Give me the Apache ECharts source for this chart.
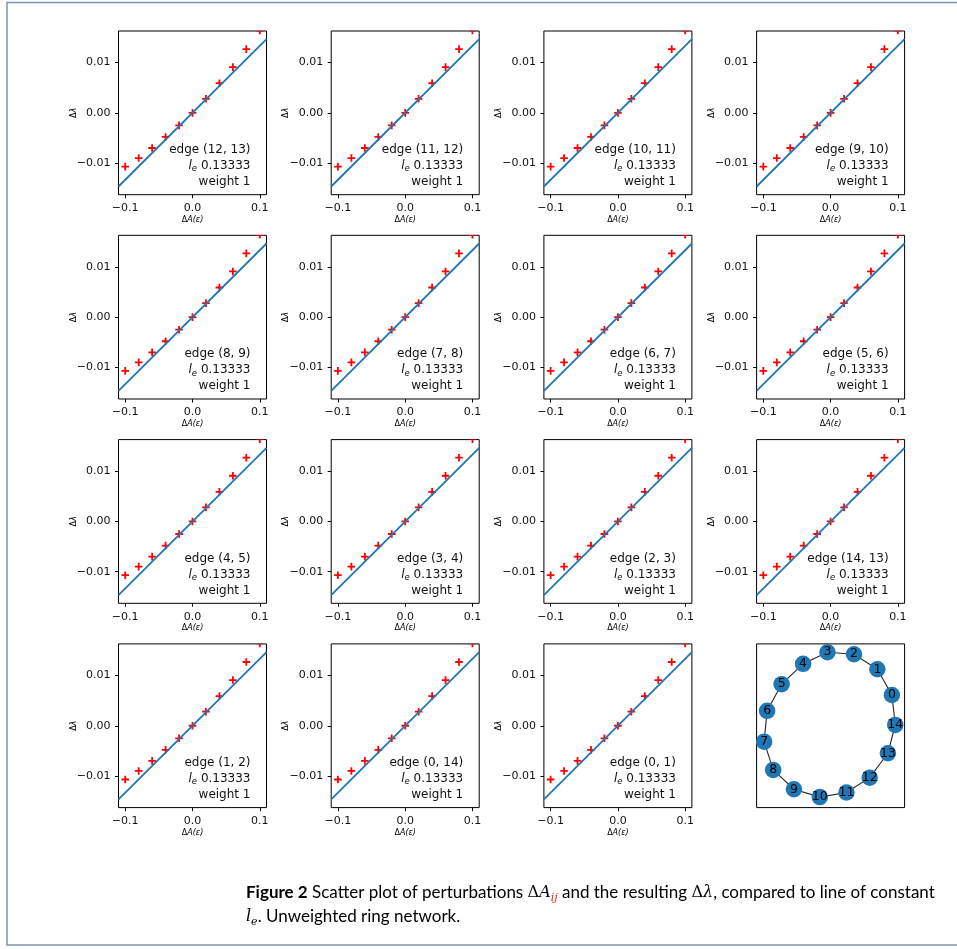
<!DOCTYPE html>
<html>
<head>
<meta charset="utf-8">
<script src="https://cdn.jsdelivr.net/npm/echarts@6/dist/echarts.min.js"></script>
<style>
  html, body { margin: 0; padding: 0; background: #ffffff; }
  #chart { width: 957px; height: 949px; }
</style>
</head>
<body>
<div id="chart"></div>
<script>
// ---- data -------------------------------------------------------------
// edge perturbed in each panel (row-major order)
const edgeLabels = [
  '(12, 13)', '(11, 12)', '(10, 11)', '(9, 10)',
  '(8, 9)', '(7, 8)', '(6, 7)', '(5, 6)',
  '(4, 5)', '(3, 4)', '(2, 3)', '(14, 13)',
  '(1, 2)', '(0, 14)', '(0, 1)'
];
// perturbation sizes ΔA(ε)
const perturbations = [-0.10, -0.08, -0.06, -0.04, -0.02, 0.00, 0.02, 0.04, 0.06, 0.08, 0.10];
// resulting eigenvalue change Δλ (same for every edge of the ring)
const deltaLambda = [-0.0107, -0.0090, -0.0070, -0.0048, -0.0025, 0.0000, 0.0028, 0.0059, 0.0091, 0.0127, 0.0164];
// edge importance l_e and weight
const edgeLength = 0.13333;
const edgeWeight = 1;
// reference line end points on the ΔA axis
const lineEndsX = [-0.11, 0.11];

const xTicks = [-0.1, 0.0, 0.1];
const xTickText = ['\u22120.1', '0.0', '0.1'];
const yTicks = [-0.01, 0.0, 0.01];
const yTickText = ['\u22120.01', '0.00', '0.01'];
const xRange = [-0.11, 0.11];
const yRange = [-0.0163, 0.0163];

// ring network drawing positions (unit box)
const nodeIds = [0, 1, 2, 3, 4, 5, 6, 7, 8, 9, 10, 11, 12, 13, 14];
const nodeX = [0.914, 0.816, 0.658, 0.479, 0.314, 0.169, 0.071, 0.051, 0.112, 0.252, 0.427, 0.607, 0.764, 0.887, 0.937];
const nodeY = [0.688, 0.845, 0.937, 0.949, 0.878, 0.754, 0.591, 0.403, 0.230, 0.112, 0.064, 0.092, 0.183, 0.332, 0.505];
const ringEdges = [[0, 1], [1, 2], [2, 3], [3, 4], [4, 5], [5, 6], [6, 7], [7, 8], [8, 9], [9, 10], [10, 11], [11, 12], [12, 13], [13, 14], [14, 0]];

// ---- layout -----------------------------------------------------------
const COLS = 4;
const LEFT0 = 118.5, COL_STEP = 212.7, PANEL_W = 148;
const TOP0 = 31, ROW_STEP = 204.3, PANEL_H = 163.7;
const TICK_FONT = 'DejaVu Sans';

function tickFormatter(ticks, texts) {
  return function (v) {
    const k = ticks.findIndex(t => Math.abs(t - v) < 1e-9);
    return k < 0 ? '' : texts[k];
  };
}

const grids = [], xAxes = [], yAxes = [], series = [], graphics = [];

const nPanels = edgeLabels.length + 1;
for (let i = 0; i < nPanels; i++) {
  const r = Math.floor(i / COLS), c = i % COLS;
  const left = LEFT0 + c * COL_STEP, top = TOP0 + r * ROW_STEP;
  grids.push({
    left: left, top: top, width: PANEL_W, height: PANEL_H,
    show: true, borderColor: '#000', borderWidth: 1, backgroundColor: 'transparent'
  });
}

const scatterPoints = perturbations.map((x, k) => [x, deltaLambda[k]]);
const linePoints = lineEndsX.map(x => [x, edgeLength * x]);

edgeLabels.forEach((edge, i) => {
  xAxes.push({
    type: 'value', gridIndex: i, min: xRange[0], max: xRange[1],
    axisLine: { show: false, onZero: false },
    splitLine: { show: false },
    axisTick: { show: true, customValues: xTicks, length: 3.5, lineStyle: { color: '#000', width: 1 } },
    axisLabel: {
      customValues: xTicks, formatter: tickFormatter(xTicks, xTickText),
      fontFamily: TICK_FONT, fontSize: 11, color: '#111', margin: 8
    },
    name: '{d|Δ}{i|A(ε)}', nameLocation: 'middle', nameGap: 21,
    nameTextStyle: {
      rich: {
        d: { fontFamily: TICK_FONT, fontSize: 8, color: '#000' },
        i: { fontFamily: TICK_FONT, fontStyle: 'italic', fontSize: 8, color: '#000' }
      }
    }
  });
  yAxes.push({
    type: 'value', gridIndex: i, min: yRange[0], max: yRange[1],
    axisLine: { show: false, onZero: false },
    splitLine: { show: false },
    axisTick: { show: true, customValues: yTicks, length: 3.5, lineStyle: { color: '#000', width: 1 } },
    axisLabel: {
      customValues: yTicks, formatter: tickFormatter(yTicks, yTickText),
      fontFamily: TICK_FONT, fontSize: 11, color: '#111', margin: 8
    },
    name: '{d|Δ}{i|λ}', nameLocation: 'middle', nameGap: 41, nameRotate: 90,
    nameMoveOverlap: false,
    nameTextStyle: {
      rich: {
        d: { fontFamily: TICK_FONT, fontSize: 8, color: '#000' },
        i: { fontFamily: TICK_FONT, fontStyle: 'italic', fontSize: 8, color: '#000' }
      }
    }
  });

  // red "+" markers, clipped to the axes box
  series.push({
    type: 'custom', xAxisIndex: i, yAxisIndex: i, clip: true, z: 2,
    data: scatterPoints,
    renderItem: function (params, api) {
      const p = api.coord([api.value(0), api.value(1)]);
      const h = 3.8;
      const st = { stroke: '#ff0000', lineWidth: 1.8 };
      return {
        type: 'group',
        children: [
          { type: 'line', shape: { x1: p[0] - h, y1: p[1], x2: p[0] + h, y2: p[1] }, style: st },
          { type: 'line', shape: { x1: p[0], y1: p[1] - h, x2: p[0], y2: p[1] + h }, style: st }
        ]
      };
    },
    silent: true, animation: false
  });

  // line of constant l_e
  series.push({
    type: 'line', xAxisIndex: i, yAxisIndex: i, z: 3,
    data: linePoints, showSymbol: false, symbol: 'none',
    lineStyle: { color: '#1f77b4', width: 1.8 },
    silent: true, animation: false
  });

  // annotation block
  const r = Math.floor(i / COLS), c = i % COLS;
  const tx = LEFT0 + c * COL_STEP + PANEL_W - 16;
  const ty = TOP0 + r * ROW_STEP;
  const base = { fontFamily: TICK_FONT, fontSize: 12, fill: '#111', align: 'right', verticalAlign: 'middle' };
  graphics.push({ type: 'text', x: tx, y: ty + 119, style: Object.assign({ text: 'edge ' + edge }, base), silent: true });
  graphics.push({
    type: 'text', x: tx, y: ty + 135,
    style: Object.assign({
      text: '{l|l}{e|e}{n| ' + edgeLength.toFixed(5) + '}',
      rich: {
        l: { fontFamily: TICK_FONT, fontStyle: 'italic', fontSize: 12, fill: '#111', lineHeight: 15, verticalAlign: 'middle' },
        e: { fontFamily: TICK_FONT, fontStyle: 'italic', fontSize: 8.5, fill: '#111', lineHeight: 15, verticalAlign: 'bottom' },
        n: { fontFamily: TICK_FONT, fontSize: 12, fill: '#111', lineHeight: 15, verticalAlign: 'middle' }
      }
    }, base), silent: true
  });
  graphics.push({ type: 'text', x: tx, y: ty + 151, style: Object.assign({ text: 'weight ' + edgeWeight }, base), silent: true });
});

// network panel
const gi = edgeLabels.length;
xAxes.push({ type: 'value', gridIndex: gi, min: 0, max: 1, show: false, axisLine: { onZero: false } });
yAxes.push({ type: 'value', gridIndex: gi, min: 0, max: 1, show: false, axisLine: { onZero: false } });
series.push({
  type: 'graph', coordinateSystem: 'cartesian2d', xAxisIndex: gi, yAxisIndex: gi,
  data: nodeIds.map((id, k) => ({ name: String(id), value: [nodeX[k], nodeY[k]] })),
  links: ringEdges.map(e => ({ source: e[0], target: e[1] })),
  symbol: 'circle', symbolSize: 16.5,
  itemStyle: { color: '#1f77b4', borderWidth: 0 },
  lineStyle: { color: '#000', width: 1.1, opacity: 0.85, curveness: 0 },
  label: { show: true, position: 'inside', fontFamily: TICK_FONT, fontSize: 12.5, color: '#000' },
  emphasis: { disabled: true },
  silent: true, animation: false
});

// page frame and caption
graphics.push({
  type: 'rect', shape: { x: 7, y: 2.5, width: 952, height: 942.5 },
  style: { fill: 'none', stroke: '#7f95ad', lineWidth: 1.5 }, silent: true
});
const capFont = 'Lato';
graphics.push({
  type: 'text', x: 246, y: 893,
  style: {
    text: '{b|Figure 2} Scatter plot of perturbations {m|Δ}{mi|A}{s|ij} and the resulting {m|Δ}{mi|λ}, compared to line of constant',
    fontFamily: capFont, fontSize: 17, fill: '#000', verticalAlign: 'middle',
    rich: {
      b: { fontFamily: capFont, fontWeight: 'bold', fontSize: 17, fill: '#000', lineHeight: 22 },
      m: { fontFamily: 'DejaVu Serif', fontSize: 16, fill: '#000', lineHeight: 22 },
      mi: { fontFamily: 'DejaVu Serif', fontStyle: 'italic', fontSize: 16, fill: '#000', lineHeight: 22 },
      s: { fontFamily: 'DejaVu Serif', fontStyle: 'italic', fontSize: 11, fill: '#e8291c', lineHeight: 22, verticalAlign: 'bottom' }
    }
  }, silent: true
});
graphics.push({
  type: 'text', x: 246, y: 917,
  style: {
    text: '{mi|l}{s|e}. Unweighted ring network.',
    fontFamily: capFont, fontSize: 17, fill: '#000', verticalAlign: 'middle',
    rich: {
      mi: { fontFamily: 'DejaVu Serif', fontStyle: 'italic', fontSize: 16, fill: '#000', lineHeight: 22 },
      s: { fontFamily: 'DejaVu Serif', fontStyle: 'italic', fontSize: 11, fill: '#000', lineHeight: 22, verticalAlign: 'bottom' }
    }
  }, silent: true
});

const chart = echarts.init(document.getElementById('chart'), null, { renderer: 'canvas' });
chart.setOption({
  animation: false,
  backgroundColor: '#ffffff',
  grid: grids,
  xAxis: xAxes,
  yAxis: yAxes,
  series: series,
  graphic: { elements: graphics }
});
</script>
</body>
</html>
